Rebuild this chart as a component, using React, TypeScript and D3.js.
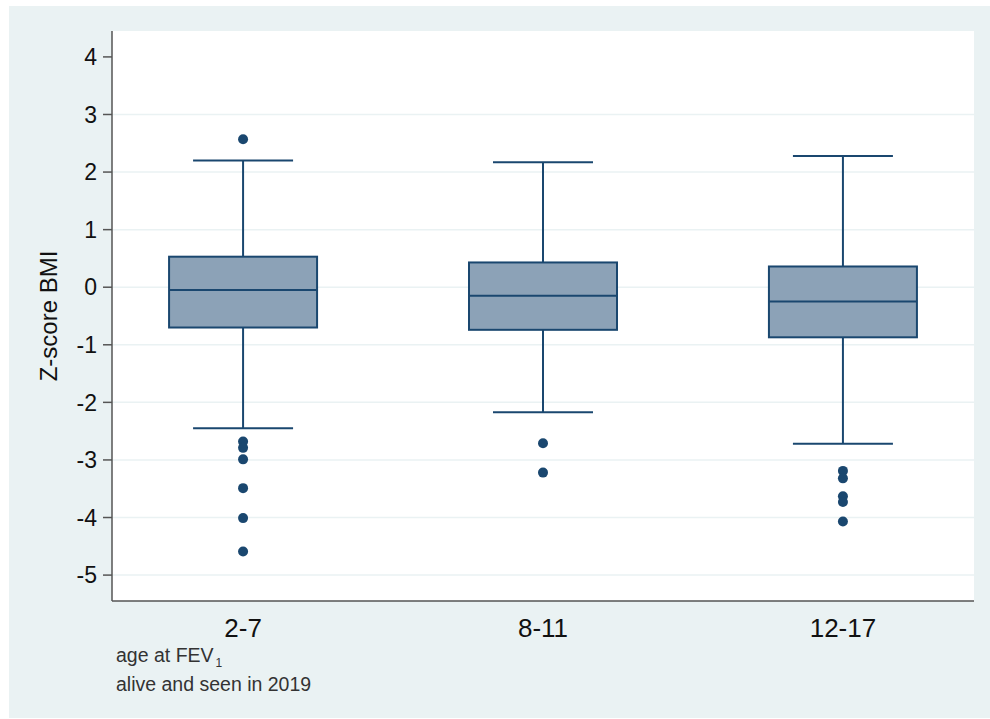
import React from "react";
import * as d3 from "d3";

const categories = ["2-7", "8-11", "12-17"];
const upperWhisker = [2.2, 2.17, 2.28];
const q3 = [0.53, 0.43, 0.36];
const median = [-0.05, -0.15, -0.25];
const q1 = [-0.7, -0.74, -0.87];
const lowerWhisker = [-2.45, -2.17, -2.72];
const outliers = [
  [2.57, -2.68, -2.79, -2.99, -3.49, -4.01, -4.59],
  [-2.71, -3.22],
  [-3.19, -3.32, -3.63, -3.73, -4.07],
];
const yTicks = [4, 3, 2, 1, 0, -1, -2, -3, -4, -5];
const gridTicks = [3, 2, 1, 0, -1, -2, -3, -4, -5];

const W = 990, H = 719;
const left = 112, right = 974, top = 31, bottom = 601;
const navy = "#1a476f";
const fill = "#8ca2b7";
const font = "'Liberation Sans', Arial, sans-serif";

export default function App() {
  const y = d3.scaleLinear().domain([-5.45, 4.45]).range([bottom, top]);
  const x = d3.scalePoint<string>().domain(categories).range([left, right]).padding(0.437);
  const boxW = 148, capW = 100;
  return (
    <svg width={W} height={H} style={{ position: "absolute", left: 0, top: 0, fontFamily: font }}>
      <rect x={9} y={6} width={W - 9} height={H - 7} fill="#eaf2f3" />
      <rect x={left} y={top} width={right - left} height={bottom - top} fill="#ffffff" />
      {gridTicks.map((t) => (
        <line key={t} x1={left} x2={right} y1={y(t)} y2={y(t)} stroke="#eaf2f3" strokeWidth={1.5} />
      ))}
      {categories.map((c, i) => {
        const cx = x(c)!;
        return (
          <g key={c}>
            <line x1={cx} x2={cx} y1={y(upperWhisker[i])} y2={y(q3[i])} stroke={navy} strokeWidth={2} />
            <line x1={cx} x2={cx} y1={y(q1[i])} y2={y(lowerWhisker[i])} stroke={navy} strokeWidth={2} />
            <line x1={cx - capW / 2} x2={cx + capW / 2} y1={y(upperWhisker[i])} y2={y(upperWhisker[i])} stroke={navy} strokeWidth={2} />
            <line x1={cx - capW / 2} x2={cx + capW / 2} y1={y(lowerWhisker[i])} y2={y(lowerWhisker[i])} stroke={navy} strokeWidth={2} />
            <rect x={cx - boxW / 2} y={y(q3[i])} width={boxW} height={y(q1[i]) - y(q3[i])} fill={fill} stroke={navy} strokeWidth={2} />
            <line x1={cx - boxW / 2} x2={cx + boxW / 2} y1={y(median[i])} y2={y(median[i])} stroke={navy} strokeWidth={2} />
            {outliers[i].map((v, j) => (
              <circle key={j} cx={cx} cy={y(v)} r={5} fill={navy} />
            ))}
          </g>
        );
      })}
      <line x1={left} x2={left} y1={top} y2={bottom} stroke="#555" strokeWidth={1.5} />
      <line x1={left} x2={right} y1={bottom} y2={bottom} stroke="#555" strokeWidth={1.5} />
      {yTicks.map((t) => (
        <g key={t}>
          <line x1={left - 9} x2={left} y1={y(t)} y2={y(t)} stroke="#555" strokeWidth={1.5} />
          <text x={left - 15} y={y(t)} dy="0.36em" textAnchor="end" fontSize={23} fill="#111">
            {t}
          </text>
        </g>
      ))}
      {categories.map((c) => (
        <text key={c} x={x(c)!} y={637} textAnchor="middle" fontSize={26} fill="#111">
          {c}
        </text>
      ))}
      <text transform={`translate(57,${(top + bottom) / 2}) rotate(-90)`} textAnchor="middle" fontSize={24} fill="#111">
        Z-score BMI
      </text>
      <text x={116} y={662} fontSize={19.5} fill="#333">
        age at FEV<tspan fontSize={12} dy={5} dx={2}>1</tspan>
      </text>
      <text x={116} y={691} fontSize={19.5} fill="#333">
        alive and seen in 2019
      </text>
    </svg>
  );
}
